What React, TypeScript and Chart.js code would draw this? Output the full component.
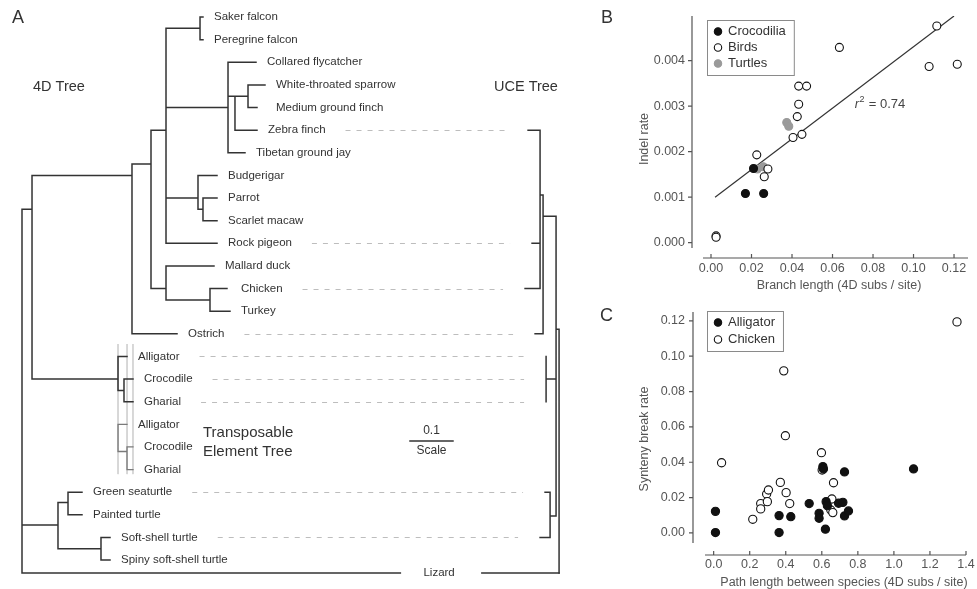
import React, { useEffect, useRef } from "react";
import { Chart, registerables } from "chart.js";

Chart.register(...registerables);

const FONT = '"Liberation Sans", Arial, Helvetica, sans-serif';
const INK = "#333333";
const AXIS_INK = "#555555";

/* ================= Panel A : phylogenies ================= */
// [node name, parent, depth (subs/site from 4D root), row (leaf order)]
type TreeNode = [string, string | null, number, number];

const UCE_ROOT_DEPTH = 1.249;

const TREE_4D: TreeNode[] = [
  ["root", null, 0, 8.5],
  ["Archosauria", "root", 0.0233, 8.5],
  ["Aves", "Archosauria", 0.2558, 7],
  ["Neognathae", "Aves", 0.3, 6.5],
  ["Neoaves", "Neognathae", 0.3349, 5],
  ["Falconidae", "Neoaves", 0.414, 0.5],
  ["Saker falcon", "Falconidae", 0.4209, 0],
  ["Peregrine falcon", "Falconidae", 0.4209, 1],
  ["Passeriformes", "Neoaves", 0.4791, 4],
  ["Collared flycatcher", "Passeriformes", 0.5442, 2],
  ["Passerida", "Passeriformes", 0.4953, 3.5],
  ["Passeroidea", "Passerida", 0.5256, 3.5],
  ["White-throated sparrow", "Passeroidea", 0.5651, 3],
  ["Medium ground finch", "Passeroidea", 0.5465, 4],
  ["Zebra finch", "Passerida", 0.5465, 5],
  ["Tibetan ground jay", "Passeriformes", 0.5186, 6],
  ["Psittaciformes", "Neoaves", 0.4093, 8],
  ["Budgerigar", "Psittaciformes", 0.4535, 7],
  ["Psittacidae", "Psittaciformes", 0.4209, 8.5],
  ["Parrot", "Psittacidae", 0.4535, 8],
  ["Scarlet macaw", "Psittacidae", 0.4535, 9],
  ["Rock pigeon", "Neoaves", 0.4535, 10],
  ["Galloanserae", "Neognathae", 0.3349, 12],
  ["Mallard duck", "Galloanserae", 0.4465, 11],
  ["Galliformes", "Galloanserae", 0.4372, 12.5],
  ["Chicken", "Galliformes", 0.4767, 12],
  ["Turkey", "Galliformes", 0.4837, 13],
  ["Ostrich", "Aves", 0.3605, 14],
  ["Crocodylia", "Archosauria", 0.2233, 16],
  ["Alligator", "Crocodylia", 0.2442, 15],
  ["Crocodylidae", "Crocodylia", 0.2372, 16.5],
  ["Crocodile", "Crocodylidae", 0.2581, 16],
  ["Gharial", "Crocodylidae", 0.2581, 17],
  ["Testudines", "root", 0.0837, 22.45],
  ["Cryptodira", "Testudines", 0.107, 21.45],
  ["Green seaturtle", "Cryptodira", 0.1395, 21],
  ["Painted turtle", "Cryptodira", 0.1395, 22],
  ["Trionychidae", "Testudines", 0.1837, 23.5],
  ["Soft-shell turtle", "Trionychidae", 0.2047, 23],
  ["Spiny soft-shell turtle", "Trionychidae", 0.2047, 24],
  ["Lizard", "root", UCE_ROOT_DEPTH, 24.57],
];

const TREE_TE: TreeNode[] = [
  ["TE root", null, 0.2233, 18],
  ["Alligator", "TE root", 0.2442, 18],
  ["TE Crocodylidae", "TE root", 0.2442, 19.2],
  ["Crocodile", "TE Crocodylidae", 0.2581, 19],
  ["Gharial", "TE Crocodylidae", 0.2581, 20],
];

// UCE tree: depth measured leftwards from the UCE root
const TREE_UCE: TreeNode[] = [
  ["UCE root", null, 0, 13.8],
  ["Archelosauria", "UCE root", 0.007, 13.8],
  ["Aves", "Archelosauria", 0.0372, 8.8],
  ["Neognathae", "Aves", 0.0442, 7.87],
  ["Zebra finch", "Neognathae", 0.0721, 5],
  ["Rock pigeon", "Neognathae", 0.0628, 10],
  ["Chicken", "Neognathae", 0.0791, 12],
  ["Ostrich", "Aves", 0.0558, 14],
  ["Crocodylia", "Archelosauria", 0.0302, 16],
  ["Alligator", "Crocodylia", 0.0302, 15],
  ["Crocodile", "Crocodylia", 0.0302, 16],
  ["Gharial", "Crocodylia", 0.0302, 17],
  ["Testudines", "Archelosauria", 0.0209, 22.05],
  ["Green seaturtle", "Testudines", 0.0326, 21],
  ["Soft-shell turtle", "Testudines", 0.0442, 23],
  ["Lizard", "UCE root", 0, 24.57],
];

const GUIDE_DEPTHS = [0.2233, 0.2442, 0.2581];
const GUIDE_ROWS = [14.45, 20.2];

const SCALE_BAR_LENGTH = 0.1;
const SCALE_BAR_START = 0.9023;
const SCALE_BAR_ROW = 18.74;
const LIZARD_LABEL_DEPTH = 0.97;

const TREE_X_RANGE = [-22 / 430, -22 / 430 + 600 / 430];
const TREE_ROW_RANGE = [-17 / 22.63, -17 / 22.63 + 589 / 22.63];

/* ================= Panel B : indel rate ================= */
const B_CROC_X = [0.021, 0.017, 0.026];
const B_CROC_Y = [0.00163, 0.00108, 0.00108];
const B_BIRD_X = [0.1115, 0.0634, 0.1077, 0.1216, 0.0433, 0.0472, 0.0433, 0.0426, 0.0405, 0.0449, 0.0226, 0.0281, 0.0263, 0.0025, 0.0025];
const B_BIRD_Y = [0.00476, 0.00429, 0.00387, 0.00392, 0.00344, 0.00344, 0.00304, 0.00277, 0.00231, 0.00238, 0.00193, 0.00162, 0.00145, 0.00015, 0.00012];
const B_TURTLE_X = [0.0374, 0.0384, 0.0229, 0.0258];
const B_TURTLE_Y = [0.00264, 0.00256, 0.00162, 0.00167];
const B_FIT_X = [0.002, 0.12];
const B_FIT_Y = [0.001, 0.00498];
const B_R2 = 0.74;
const B_R2_AT = [0.071, 0.00303];
const B_X_TICKS = [0, 0.02, 0.04, 0.06, 0.08, 0.1, 0.12];
const B_Y_TICKS = [0, 0.001, 0.002, 0.003, 0.004];

/* ================= Panel C : synteny breaks ================= */
const C_ALLI_X = [0.01, 0.01, 0.363, 0.363, 0.428, 0.53, 0.585, 0.585, 0.62, 0.624, 0.631, 0.606, 0.609, 0.693, 0.717, 0.726, 0.748, 0.726, 1.109];
const C_ALLI_Y = [0.0122, 0.0002, 0.0098, 0.0002, 0.0092, 0.0166, 0.0111, 0.0083, 0.0021, 0.0177, 0.0154, 0.0375, 0.0362, 0.0168, 0.0173, 0.0096, 0.0124, 0.0345, 0.0362];
const C_CHICK_X = [0.044, 0.217, 0.261, 0.261, 0.294, 0.304, 0.298, 0.37, 0.389, 0.398, 0.402, 0.422, 0.598, 0.602, 0.665, 0.656, 0.65, 0.661, 1.35];
const C_CHICK_Y = [0.0397, 0.0077, 0.0166, 0.0136, 0.022, 0.0243, 0.0177, 0.0286, 0.0917, 0.055, 0.0228, 0.0166, 0.0454, 0.0356, 0.0284, 0.0192, 0.013, 0.0115, 0.1194];
const C_X_TICKS = [0, 0.2, 0.4, 0.6, 0.8, 1.0, 1.2, 1.4];
const C_Y_TICKS = [0, 0.02, 0.04, 0.06, 0.08, 0.1, 0.12];

/* ================= helpers ================= */
function childrenOf(tree: TreeNode[]) {
  const kids = new Map<string, TreeNode[]>();
  tree.forEach((n) => {
    if (!n[1]) return;
    if (!kids.has(n[1])) kids.set(n[1], []);
    kids.get(n[1])!.push(n);
  });
  return kids;
}

function treeSegments(tree: TreeNode[], xOf: (d: number) => number) {
  const pts: any[] = [];
  const byName = new Map(tree.map((n) => [n[0], n] as [string, TreeNode]));
  const kids = childrenOf(tree);
  const gap = { x: null, y: null };
  tree.forEach((n) => {
    const p = n[1] ? byName.get(n[1]) : undefined;
    if (p && n[2] !== p[2]) {
      pts.push({ x: xOf(p[2]), y: n[3] }, { x: xOf(n[2]), y: n[3] }, gap);
    }
    const ch = kids.get(n[0]);
    if (ch) {
      const rows = ch.map((c) => c[3]);
      pts.push({ x: xOf(n[2]), y: Math.min(...rows) }, { x: xOf(n[2]), y: Math.max(...rows) }, gap);
    }
  });
  return pts;
}

function lineDs(data: any[], color: string, width: number) {
  return {
    data,
    showLine: true,
    borderColor: color,
    borderWidth: width,
    borderCapStyle: "square",
    pointRadius: 0,
    pointHitRadius: 0,
    spanGaps: false,
    tension: 0,
  };
}

const treeTextPlugin = {
  id: "treeText",
  afterDatasetsDraw(chart: any) {
    const { ctx } = chart;
    const xs = chart.scales.x;
    const ys = chart.scales.y;
    const px = (d: number) => xs.getPixelForValue(d);
    const py = (r: number) => ys.getPixelForValue(r);
    ctx.save();
    ctx.textBaseline = "middle";
    ctx.textAlign = "left";
    ctx.fillStyle = INK;
    ctx.font = `11.5px ${FONT}`;
    const labelEnd = new Map<string, number>();
    const drawLeaves = (tree: TreeNode[], record: boolean) => {
      const kids = childrenOf(tree);
      tree.forEach((n) => {
        if (!n[1] || kids.has(n[0]) || n[0] === "Lizard") return;
        const sibs = kids.get(n[1])!;
        const allLeaves = sibs.every((s) => !kids.has(s[0]));
        const d = allLeaves ? Math.max(...sibs.map((s) => s[2])) : n[2];
        const x0 = px(d) + 11;
        ctx.fillText(n[0], x0, py(n[3]));
        if (record) labelEnd.set(n[0], x0 + ctx.measureText(n[0]).width);
      });
    };
    drawLeaves(TREE_4D, true);
    drawLeaves(TREE_TE, false);

    // dashed connectors to the UCE tree
    const uceKids = childrenOf(TREE_UCE);
    ctx.strokeStyle = "#bdbdbd";
    ctx.lineWidth = 1;
    ctx.setLineDash([5, 6]);
    TREE_UCE.forEach((n) => {
      if (uceKids.has(n[0]) || n[0] === "Lizard") return;
      const start = labelEnd.get(n[0]);
      if (start === undefined) return;
      const y = Math.round(py(n[3])) + 0.5;
      ctx.beginPath();
      ctx.moveTo(start + 20, y);
      ctx.lineTo(px(UCE_ROOT_DEPTH - n[2]) - 22, y);
      ctx.stroke();
    });
    ctx.setLineDash([]);

    // Lizard label on the shared branch
    const lz = TREE_4D.find((n) => n[0] === "Lizard")!;
    const lx = px(LIZARD_LABEL_DEPTH);
    const ly = py(lz[3]);
    ctx.fillStyle = "#ffffff";
    ctx.fillRect(lx - 38, ly - 5, 80, 10);
    ctx.fillStyle = INK;
    ctx.textAlign = "center";
    ctx.fillText("Lizard", lx, ly);

    // scale bar text
    const sx = px(SCALE_BAR_START + SCALE_BAR_LENGTH / 2);
    const sy = py(SCALE_BAR_ROW);
    ctx.font = `12px ${FONT}`;
    ctx.fillText(String(SCALE_BAR_LENGTH), sx, sy - 10);
    ctx.fillText("Scale", sx, sy + 10);

    // headings
    ctx.textAlign = "left";
    ctx.font = `18px ${FONT}`;
    ctx.fillText("A", 12, 18);
    ctx.font = `14.5px ${FONT}`;
    ctx.fillText("4D Tree", 33, 87);
    ctx.fillText("UCE Tree", 494, 87);
    ctx.font = `15px ${FONT}`;
    ctx.fillText("Transposable", 203, 433);
    ctx.fillText("Element Tree", 203, 452);
    ctx.restore();
  },
};

function treeConfig(): any {
  const id = (d: number) => d;
  const uce = (d: number) => UCE_ROOT_DEPTH - d;
  const guides: any[] = [];
  GUIDE_DEPTHS.forEach((d) => {
    guides.push({ x: d, y: GUIDE_ROWS[0] }, { x: d, y: GUIDE_ROWS[1] }, { x: null, y: null });
  });
  return {
    type: "scatter",
    data: {
      datasets: [
        lineDs(treeSegments(TREE_4D, id), INK, 1.5),
        lineDs(treeSegments(TREE_UCE, uce), INK, 1.5),
        lineDs(treeSegments(TREE_TE, id), "#7a7a7a", 1.3),
        lineDs(
          [
            { x: SCALE_BAR_START, y: SCALE_BAR_ROW },
            { x: SCALE_BAR_START + SCALE_BAR_LENGTH, y: SCALE_BAR_ROW },
          ],
          INK,
          1.5
        ),
        { ...lineDs(guides, "#d2d2d2", 1), borderCapStyle: "butt" },
      ],
    },
    options: {
      animation: false,
      responsive: false,
      events: [],
      layout: { padding: 0 },
      scales: {
        x: { type: "linear", display: false, min: TREE_X_RANGE[0], max: TREE_X_RANGE[1], bounds: "data" },
        y: { type: "linear", display: false, reverse: true, min: TREE_ROW_RANGE[0], max: TREE_ROW_RANGE[1], bounds: "data" },
      },
      plugins: { legend: { display: false }, tooltip: { enabled: false } },
    },
    plugins: [treeTextPlugin],
  };
}

/* ================= scatter panels ================= */
type Series = { label: string; xs: number[]; ys: number[]; fill: string; stroke: string };

type PanelSpec = {
  id: string;
  letter: string;
  letterXY: [number, number];
  series: Series[];
  fit?: { xs: number[]; ys: number[] };
  note?: { at: number[]; value: number };
  xRange: [number, number];
  yRange: [number, number];
  xTicks: number[];
  yTicks: number[];
  xDigits: number;
  yDigits: number;
  width: number;
  height: number;
  area: { left: number; top: number; right: number; bottom: number };
  xPad: number;
  yPad: number;
  yGap: number;
  xGap: number;
  xTitle: string;
  xTitleXY: [number, number];
  yTitle: string;
  yTitleXY: [number, number];
  legendXY: [number, number];
  legendRow: number;
  radius: number;
};

function panelPlugin(s: PanelSpec) {
  return {
    id: "panel" + s.id,
    afterDraw(chart: any) {
      const { ctx, chartArea: a } = chart;
      const xs = chart.scales.x;
      const ys = chart.scales.y;
      ctx.save();
      // offset axes
      ctx.strokeStyle = AXIS_INK;
      ctx.lineWidth = 1.2;
      const ax = a.left - s.yGap;
      const ay = a.bottom + s.xGap;
      ctx.beginPath();
      ctx.moveTo(ax, a.top);
      ctx.lineTo(ax, a.bottom);
      ys.ticks.forEach((t: any) => {
        const p = ys.getPixelForValue(t.value);
        ctx.moveTo(ax - 4, p);
        ctx.lineTo(ax, p);
      });
      ctx.moveTo(a.left, ay);
      ctx.lineTo(a.right, ay);
      xs.ticks.forEach((t: any) => {
        const p = xs.getPixelForValue(t.value);
        ctx.moveTo(p, ay - 4);
        ctx.lineTo(p, ay);
      });
      ctx.stroke();

      // axis titles
      ctx.fillStyle = AXIS_INK;
      ctx.font = `12.5px ${FONT}`;
      ctx.textAlign = "center";
      ctx.textBaseline = "middle";
      ctx.fillText(s.xTitle, s.xTitleXY[0], s.xTitleXY[1]);
      ctx.save();
      ctx.translate(s.yTitleXY[0], s.yTitleXY[1]);
      ctx.rotate(-Math.PI / 2);
      ctx.fillText(s.yTitle, 0, 0);
      ctx.restore();

      // panel letter
      ctx.fillStyle = INK;
      ctx.textAlign = "left";
      ctx.font = `18px ${FONT}`;
      ctx.fillText(s.letter, s.letterXY[0], s.letterXY[1]);

      // legend box
      const items = chart.data.datasets.slice(0, s.series.length);
      ctx.font = `13px ${FONT}`;
      const maxW = Math.max(...items.map((d: any) => ctx.measureText(d.label).width));
      const bx = s.legendXY[0];
      const by = s.legendXY[1];
      const bh = 23 + s.legendRow * (items.length - 1);
      const bw = 21 + maxW + 8;
      ctx.strokeStyle = "#8a8a8a";
      ctx.lineWidth = 1;
      ctx.strokeRect(bx + 0.5, by + 0.5, bw, bh);
      items.forEach((d: any, i: number) => {
        const cy = by + 11.5 + i * s.legendRow;
        ctx.beginPath();
        ctx.arc(bx + 11, cy, 3.7, 0, Math.PI * 2);
        ctx.fillStyle = d.pointBackgroundColor;
        ctx.fill();
        ctx.lineWidth = 1.1;
        ctx.strokeStyle = d.pointBorderColor;
        ctx.stroke();
        ctx.fillStyle = INK;
        ctx.fillText(d.label, bx + 21, cy);
      });

      // r^2 note
      if (s.note) {
        const nx = xs.getPixelForValue(s.note.at[0]);
        const ny = ys.getPixelForValue(s.note.at[1]);
        ctx.fillStyle = "#444444";
        ctx.font = `italic 13px ${FONT}`;
        ctx.fillText("r", nx, ny);
        let w = ctx.measureText("r").width + 0.5;
        ctx.font = `9px ${FONT}`;
        ctx.fillText("2", nx + w, ny - 5);
        w += ctx.measureText("2").width + 0.5;
        ctx.font = `13px ${FONT}`;
        ctx.fillText(` = ${s.note.value.toFixed(2)}`, nx + w, ny);
      }
      ctx.restore();
    },
  };
}

function zeroPadding(sc: any) {
  sc.paddingLeft = 0;
  sc.paddingRight = 0;
  sc.paddingTop = 0;
  sc.paddingBottom = 0;
}

function panelConfig(s: PanelSpec): any {
  const datasets: any[] = s.series.map((se) => ({
    label: se.label,
    data: se.xs.map((x, i) => ({ x, y: se.ys[i] })),
    pointRadius: s.radius,
    pointHoverRadius: s.radius,
    pointBorderWidth: 1.1,
    pointBackgroundColor: se.fill,
    pointBorderColor: se.stroke,
    backgroundColor: se.fill,
    borderColor: se.stroke,
    showLine: false,
  }));
  if (s.fit) {
    const f = s.fit;
    datasets.push({
      label: "fit",
      data: f.xs.map((x, i) => ({ x, y: f.ys[i] })),
      showLine: true,
      borderColor: INK,
      borderWidth: 1.2,
      pointRadius: 0,
      pointHitRadius: 0,
    });
  }
  const tickFont = { family: FONT, size: 12.5 };
  return {
    type: "scatter",
    data: { datasets },
    options: {
      animation: false,
      responsive: false,
      events: [],
      layout: { padding: { left: 0, top: s.area.top, right: s.width - s.area.right, bottom: 0 } },
      scales: {
        x: {
          type: "linear",
          min: s.xRange[0],
          max: s.xRange[1],
          bounds: "data",
          grid: { display: false, drawTicks: false },
          border: { display: false },
          ticks: {
            autoSkip: false,
            maxRotation: 0,
            minRotation: 0,
            padding: s.xPad,
            color: AXIS_INK,
            font: tickFont,
            callback: (v: any) => Number(v).toFixed(s.xDigits),
          },
          afterBuildTicks: (sc: any) => {
            sc.ticks = s.xTicks.map((value) => ({ value }));
          },
          afterFit: (sc: any) => {
            sc.height = s.height - s.area.bottom;
            zeroPadding(sc);
          },
        },
        y: {
          type: "linear",
          min: s.yRange[0],
          max: s.yRange[1],
          bounds: "data",
          grid: { display: false, drawTicks: false },
          border: { display: false },
          ticks: {
            padding: s.yPad,
            color: AXIS_INK,
            font: tickFont,
            callback: (v: any) => Number(v).toFixed(s.yDigits),
          },
          afterBuildTicks: (sc: any) => {
            sc.ticks = s.yTicks.map((value) => ({ value }));
          },
          afterFit: (sc: any) => {
            sc.width = s.area.left;
            zeroPadding(sc);
          },
        },
      },
      plugins: { legend: { display: false }, tooltip: { enabled: false } },
    },
    plugins: [panelPlugin(s)],
  };
}

const PANEL_B: PanelSpec = {
  id: "B",
  letter: "B",
  letterXY: [1, 18],
  series: [
    { label: "Crocodilia", xs: B_CROC_X, ys: B_CROC_Y, fill: "#111111", stroke: "#111111" },
    { label: "Birds", xs: B_BIRD_X, ys: B_BIRD_Y, fill: "#ffffff", stroke: "#111111" },
    { label: "Turtles", xs: B_TURTLE_X, ys: B_TURTLE_Y, fill: "#9a9a9a", stroke: "#9a9a9a" },
  ],
  fit: { xs: B_FIT_X, ys: B_FIT_Y },
  note: { at: B_R2_AT, value: B_R2 },
  xRange: [-0.00395, 0.1269],
  yRange: [-0.000116, 0.00498],
  xTicks: B_X_TICKS,
  yTicks: B_Y_TICKS,
  xDigits: 2,
  yDigits: 3,
  width: 377,
  height: 300,
  area: { left: 103, top: 16, right: 368, bottom: 248 },
  xPad: 13.5,
  yPad: 18,
  yGap: 11,
  xGap: 10,
  xTitle: "Branch length (4D subs / site)",
  xTitleXY: [239, 286],
  yTitle: "Indel rate",
  yTitleXY: [45, 139],
  legendXY: [107, 20],
  legendRow: 16,
  radius: 4,
};

const PANEL_C: PanelSpec = {
  id: "C",
  letter: "C",
  letterXY: [0, 26],
  series: [
    { label: "Alligator", xs: C_ALLI_X, ys: C_ALLI_Y, fill: "#111111", stroke: "#111111" },
    { label: "Chicken", xs: C_CHICK_X, ys: C_CHICK_Y, fill: "#ffffff", stroke: "#111111" },
  ],
  xRange: [-0.048, 1.4],
  yRange: [-0.0057, 0.125],
  xTicks: C_X_TICKS,
  yTicks: C_Y_TICKS,
  xDigits: 1,
  yDigits: 2,
  width: 377,
  height: 299,
  area: { left: 105, top: 22, right: 366, bottom: 253 },
  xPad: 14.5,
  yPad: 20,
  yGap: 12,
  xGap: 12,
  xTitle: "Path length between species (4D subs / site)",
  xTitleXY: [244, 293],
  yTitle: "Synteny break rate",
  yTitleXY: [45, 149],
  legendXY: [107, 21],
  legendRow: 17,
  radius: 4.1,
};

export default function App() {
  const treeRef = useRef<HTMLCanvasElement>(null);
  const bRef = useRef<HTMLCanvasElement>(null);
  const cRef = useRef<HTMLCanvasElement>(null);

  useEffect(() => {
    const charts = [
      new Chart(treeRef.current as HTMLCanvasElement, treeConfig()),
      new Chart(bRef.current as HTMLCanvasElement, panelConfig(PANEL_B)),
      new Chart(cRef.current as HTMLCanvasElement, panelConfig(PANEL_C)),
    ];
    return () => charts.forEach((c) => c.destroy());
  }, []);

  const abs = (left: number, top: number, width: number, height: number): React.CSSProperties => ({
    position: "absolute",
    left,
    top,
    width,
    height,
  });

  return (
    <div style={{ position: "absolute", left: 0, top: 0, width: 977, height: 589, background: "#ffffff", overflow: "hidden" }}>
      <canvas ref={treeRef} width={600} height={589} style={abs(0, 0, 600, 589)} />
      <canvas ref={bRef} width={377} height={300} style={abs(600, 0, 377, 300)} />
      <canvas ref={cRef} width={377} height={299} style={abs(600, 290, 377, 299)} />
    </div>
  );
}
